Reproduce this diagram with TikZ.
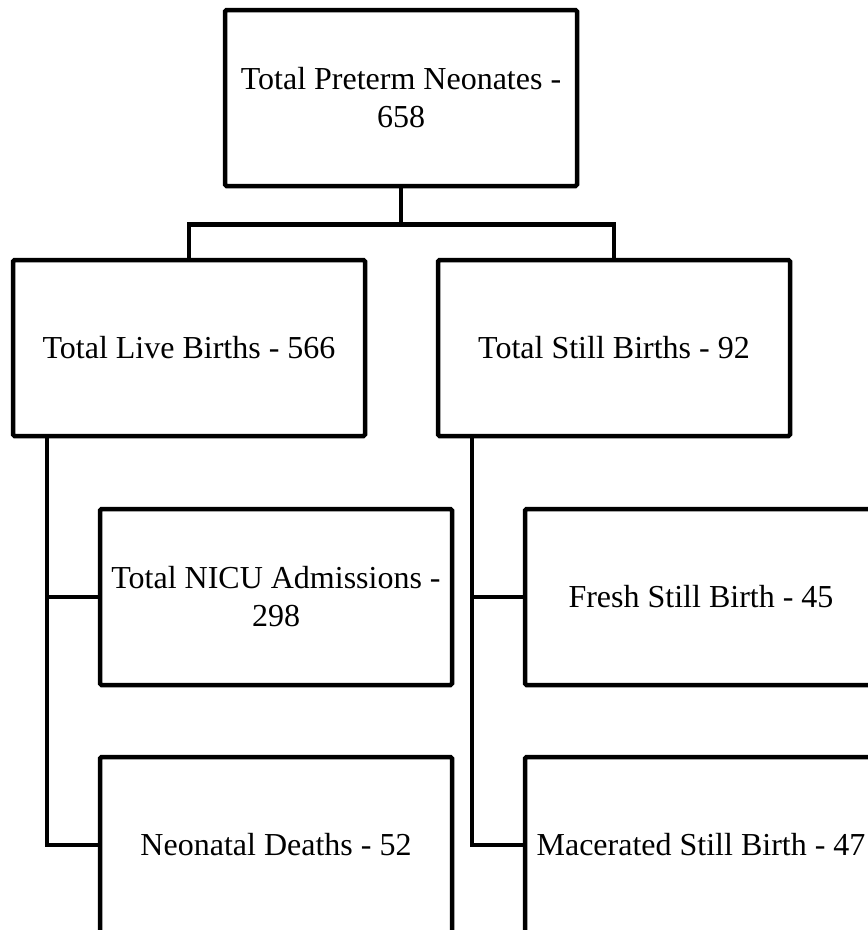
\documentclass[tikz,border=0pt]{standalone}
\usepackage{fontspec}
\setmainfont{Liberation Serif}
\begin{document}
\begin{tikzpicture}[x=1pt,y=-1pt,
  box/.style={draw=black, line width=4.5pt, fill=white, rounded corners=1.5pt,
    minimum width=352pt, minimum height=176pt, inner sep=0pt, align=center,
    font=\fontsize{32}{38}\selectfont, text=black},
  conn/.style={draw=black, line width=4.5pt}]
\useasboundingbox (0,0) rectangle (868,930);
\node[box] (top) at (401,98) {Total Preterm Neonates -\\658};
\node[box] (live) at (189,348) {Total Live Births - 566};
\node[box] (still) at (614,348) {Total Still Births - 92};
\node[box] (nicu) at (276,597) {Total NICU Admissions -\\298};
\node[box] (deaths) at (276,845) {Neonatal Deaths - 52};
\node[box] (fresh) at (701,597) {Fresh Still Birth - 45};
\node[box] (mac) at (701,845) {Macerated Still Birth - 47};
\path (top.south) ++(0,36) coordinate (mid);
\draw[conn] (top.south) -- (mid);
\draw[conn] (live.north) |- (mid) -| (still.north);
\path (live.south west) ++(36,0) coordinate (lv);
\path (still.south west) ++(36,0) coordinate (rv);
\draw[conn] (lv) |- (deaths.west);
\draw[conn] (lv |- nicu.west) -- (nicu.west);
\draw[conn] (rv) |- (mac.west);
\draw[conn] (rv |- fresh.west) -- (fresh.west);
\end{tikzpicture}
\end{document}
